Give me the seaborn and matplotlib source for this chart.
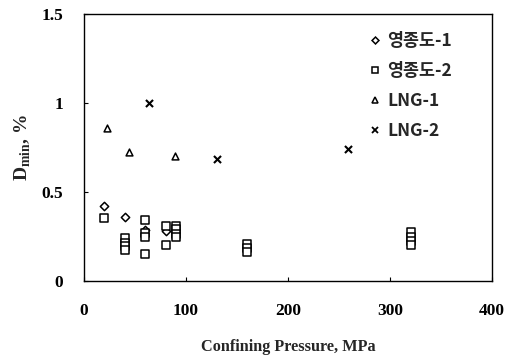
import matplotlib
matplotlib.use("Agg")
import matplotlib.pyplot as plt
import seaborn as sns
import pandas as pd
from matplotlib.lines import Line2D

series_names = ["영종도-1", "영종도-2", "LNG-1", "LNG-2"]

yj1_x = [20, 40, 60, 80]
yj1_y = [0.42, 0.36, 0.285, 0.28]

yj2_x = [20, 40, 40, 40, 40, 60, 60, 60, 60, 80, 80, 90, 90, 90, 90,
         160, 160, 160, 320, 320, 320, 320]
yj2_y = [0.355, 0.24, 0.215, 0.195, 0.175, 0.34, 0.27, 0.25, 0.155, 0.31, 0.20,
         0.31, 0.29, 0.265, 0.245, 0.21, 0.185, 0.165, 0.275, 0.25, 0.225, 0.20]

lng1_x = [23, 44, 89]
lng1_y = [0.86, 0.725, 0.70]

lng2_x = [64, 130, 259]
lng2_y = [1.0, 0.685, 0.74]

x_ticks = [0, 100, 200, 300, 400]
y_ticks = [0, 0.5, 1, 1.5]
y_tick_labels = ["0", "0.5", "1", "1.5"]

sns.set_theme(style="ticks")
plt.rcParams["font.family"] = ["Liberation Serif", "DejaVu Serif"]

fig = plt.figure(figsize=(5.09, 3.6), dpi=100)
ax = fig.add_axes([0.165, 0.219, 0.802, 0.7435])

data = {
    "영종도-1": (yj1_x, yj1_y, "D"),
    "영종도-2": (yj2_x, yj2_y, "s"),
    "LNG-1": (lng1_x, lng1_y, "^"),
    "LNG-2": (lng2_x, lng2_y, "x"),
}
sizes = {"D": 18, "s": 30, "^": 24, "x": 26}
for name in series_names:
    xs, ys, m = data[name]
    df = pd.DataFrame({"x": xs, "y": ys})
    if m == "x":
        sns.scatterplot(data=df, x="x", y="y", marker=m, color="black",
                        s=sizes[m], linewidth=1.5, ax=ax, legend=False)
    else:
        sns.scatterplot(data=df, x="x", y="y", marker=m, facecolor="white",
                        edgecolor="black", s=sizes[m], linewidth=1.1, ax=ax,
                        legend=False)

ax.set_xlim(0, 400)
ax.set_ylim(0, 1.5)
ax.set_xticks(x_ticks)
ax.set_yticks(y_ticks)
ax.set_yticklabels(y_tick_labels)
ax.tick_params(direction="in", length=3, width=0.8, colors="black",
               labelsize=12.5)
ax.tick_params(axis="x", pad=16)
ax.tick_params(axis="y", pad=15)
for lab in ax.get_xticklabels() + ax.get_yticklabels():
    lab.set_fontweight("bold")
for sp in ax.spines.values():
    sp.set_visible(True)
    sp.set_color("black")
    sp.set_linewidth(1.0)

ax.set_xlabel("Confining Pressure, MPa", fontsize=11.7, fontweight="bold",
              labelpad=14)
ax.set_ylabel(r"D$_{\mathregular{min}}$, %", fontsize=14, fontweight="bold",
              labelpad=6)

handles = [
    Line2D([], [], marker="D", linestyle="", markerfacecolor="white",
           markeredgecolor="black", markersize=3.5, markeredgewidth=1.1),
    Line2D([], [], marker="s", linestyle="", markerfacecolor="white",
           markeredgecolor="black", markersize=4.5, markeredgewidth=1.1),
    Line2D([], [], marker="^", linestyle="", markerfacecolor="white",
           markeredgecolor="black", markersize=4, markeredgewidth=1.1),
    Line2D([], [], marker="x", linestyle="", color="black",
           markersize=4, markeredgewidth=1.3),
]
leg = ax.legend(handles, series_names, loc="upper left",
                bbox_to_anchor=(0.675, 0.955), frameon=False,
                prop={"family": ["Noto Sans CJK KR", "DejaVu Sans"],
                      "size": 12.5, "weight": "bold"},
                labelspacing=0.68, handletextpad=0.2, handlelength=1.0,
                borderaxespad=0)

fig.savefig("out.png", dpi=100)
